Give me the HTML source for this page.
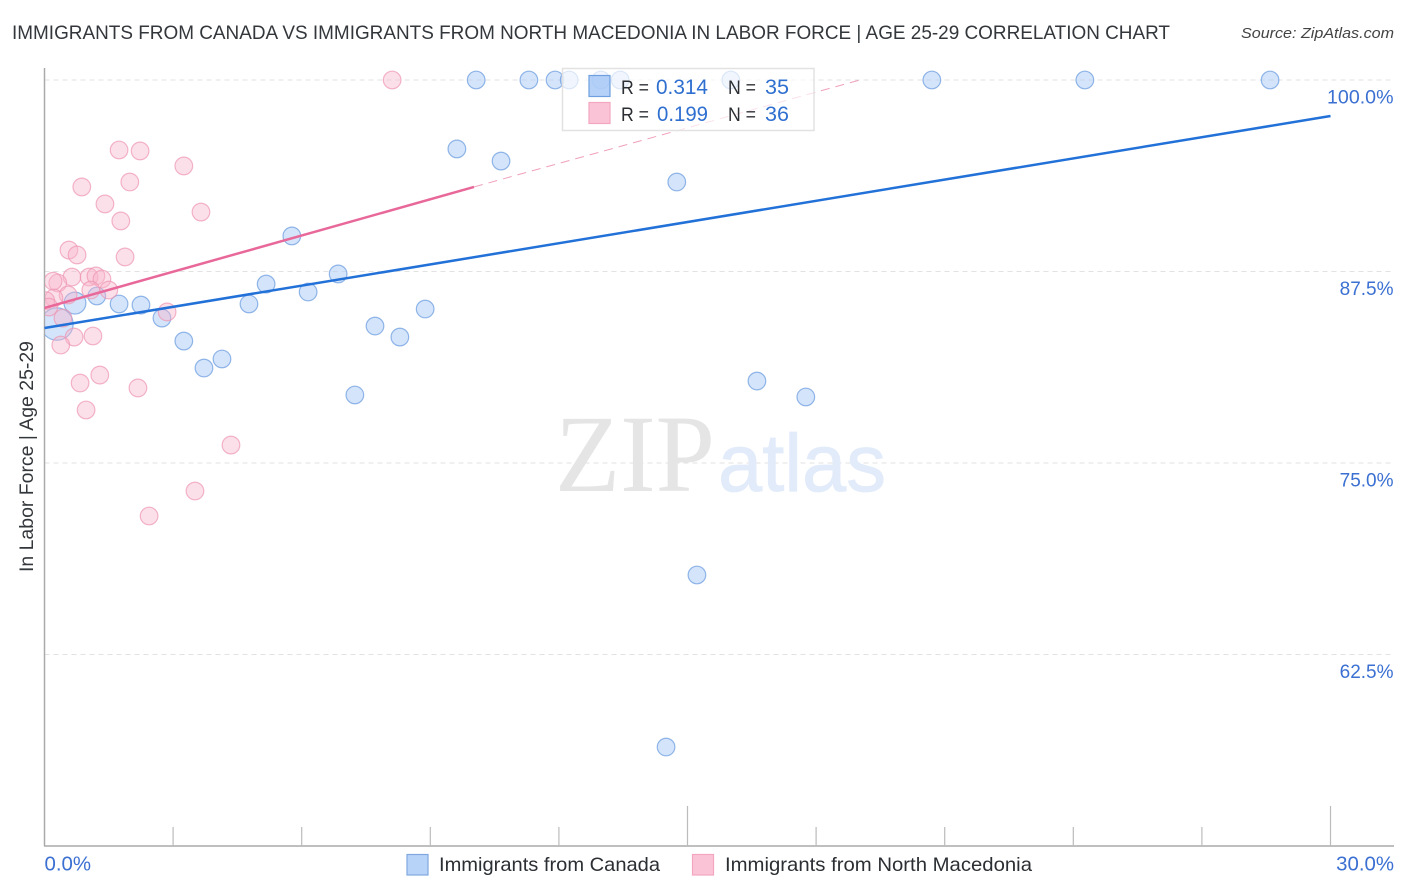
<!DOCTYPE html>
<html lang="en">
<head>
<meta charset="utf-8">
<title>Immigrants from Canada vs Immigrants from North Macedonia Correlation Chart</title>
<style>
html,body{margin:0;padding:0;background:#fff;width:1406px;height:892px;overflow:hidden}
svg{display:block;font-family:"Liberation Sans",sans-serif}
</style>
</head>
<body>
<svg id="chart" width="1406" height="892" viewBox="0 0 1406 892" xmlns="http://www.w3.org/2000/svg">
  <defs>
    <clipPath id="plot-clip"><rect x="45" y="60" width="1349" height="786"/></clipPath>
  </defs>
  <text x="12" y="39" font-size="19.5" fill="#33373b" textLength="1158" lengthAdjust="spacingAndGlyphs">IMMIGRANTS FROM CANADA VS IMMIGRANTS FROM NORTH MACEDONIA IN LABOR FORCE | AGE 25-29 CORRELATION CHART</text>
  <text x="1241" y="38" font-size="15" font-style="italic" fill="#444" textLength="153" lengthAdjust="spacingAndGlyphs">Source: ZipAtlas.com</text>
  <g id="grid"></g>
  <g>
    <text x="555" y="491" font-family="'Liberation Serif',serif" font-size="110" fill="#e5e5e5" textLength="160" lengthAdjust="spacingAndGlyphs">ZIP</text>
    <text x="718" y="491" font-size="82" fill="#e2ebfa" stroke="#e2ebfa" stroke-width="0.8" textLength="168" lengthAdjust="spacingAndGlyphs">atlas</text>
  </g>
  <g id="axes"></g>
  <g id="points" clip-path="url(#plot-clip)"></g>
  <g id="trends"></g>
  <text transform="translate(33,572) rotate(-90)" font-size="19" fill="#33373b" textLength="231" lengthAdjust="spacingAndGlyphs">In Labor Force | Age 25-29</text>
  <g>
    <rect x="562.5" y="68.5" width="251.5" height="62" fill="#fff" fill-opacity="0.68" stroke="#e2e2e2" stroke-width="1.5"/>
    <rect x="589" y="75.5" width="21" height="21" fill="#9cc2f5" fill-opacity="0.75" stroke="#6f9fdf" stroke-width="1.2"/>
    <rect x="589" y="102.5" width="21" height="21" fill="#fbc4d6" stroke="#f3a7bf" stroke-width="1.2"/>
    <text x="621" y="94" font-size="19.5" fill="#2b2f33" textLength="28" lengthAdjust="spacingAndGlyphs">R =</text>
    <text x="656" y="94" font-size="21" fill="#2f6fd0" textLength="52" lengthAdjust="spacingAndGlyphs">0.314</text>
    <text x="728" y="94" font-size="19.5" fill="#2b2f33" textLength="28" lengthAdjust="spacingAndGlyphs">N =</text>
    <text x="765" y="94" font-size="21" fill="#2f6fd0" textLength="24" lengthAdjust="spacingAndGlyphs">35</text>
    <text x="621" y="121" font-size="19.5" fill="#2b2f33" textLength="28" lengthAdjust="spacingAndGlyphs">R =</text>
    <text x="657" y="121" font-size="21" fill="#2f6fd0" textLength="51" lengthAdjust="spacingAndGlyphs">0.199</text>
    <text x="728" y="121" font-size="19.5" fill="#2b2f33" textLength="28" lengthAdjust="spacingAndGlyphs">N =</text>
    <text x="765" y="121" font-size="21" fill="#2f6fd0" textLength="24" lengthAdjust="spacingAndGlyphs">36</text>
  </g>
  <g>
    <rect x="407" y="854.5" width="21" height="20.5" fill="#b8d3f8" stroke="#7fa8e0" stroke-width="1.2"/>
    <text x="439" y="871" font-size="19.5" fill="#2b2f33" textLength="221" lengthAdjust="spacingAndGlyphs">Immigrants from Canada</text>
    <rect x="692.5" y="854.5" width="21" height="20.5" fill="#fbc4d6" stroke="#f3a7bf" stroke-width="1.2"/>
    <text x="725" y="871" font-size="19.5" fill="#2b2f33" textLength="307" lengthAdjust="spacingAndGlyphs">Immigrants from North Macedonia</text>
  </g>
</svg>
<script>
const canadaX = [10.07,11.30,11.91,12.24,12.98,13.43,16.01,20.70,24.27,28.59,9.62,10.65,14.75,5.77,5.17,6.85,6.15,4.77,1.22,1.74,2.25,0.71,0.29,2.74,3.25,3.72,4.14,7.71,8.29,8.88,7.24,16.62,17.76,15.22,14.50];
const canadaY = [100,100,100,100,100,100,100,100,100,100,95.50,94.71,93.34,89.82,86.68,87.34,86.16,85.38,85.90,85.38,85.31,85.44,84.07,84.46,82.96,81.20,81.79,83.94,83.22,85.05,79.44,80.35,79.31,67.69,56.46];
const canadaWeight = [1,1,1,1,1,1,1,1,1,1,1,1,1,1,1,1,1,1,1,1,1,2,4,1,1,1,1,1,1,1,1,1,1,1,1];
const macedoniaX = [8.11,1.74,2.23,3.25,0.87,1.99,1.41,1.78,3.65,0.57,0.76,1.88,0.64,1.04,1.20,1.34,0.31,0.20,1.08,1.50,0.55,0.22,0.03,0.10,2.86,0.43,0.69,1.13,0.38,1.29,0.83,2.18,0.97,4.35,3.51,2.44];
const macedoniaY = [100,95.43,95.37,94.39,93.02,93.34,91.91,90.80,91.38,88.90,88.58,88.45,87.14,87.14,87.21,87.01,86.75,86.87,86.29,86.29,85.97,85.77,85.60,85.18,84.86,84.46,83.22,83.29,82.70,80.74,80.22,79.90,78.46,76.17,73.17,71.54];
const canadaTrendX = [0,30];
const canadaTrendY = [83.81,97.65];
const macedoniaTrendX = [0,10.02];
const macedoniaTrendY = [85.12,93.02];
const macedoniaDashX = [10.02,19.02];
const macedoniaDashY = [93.02,100];
const yTickValues = [100,87.5,75,62.5];
const yTickLabels = ["100.0%","87.5%","75.0%","62.5%"];
const xTickValues = [3,6,9,12,15,18,21,24,27,30];
const xEndValues = [0,30];
const xEndLabels = ["0.0%","30.0%"];

const NS = "http://www.w3.org/2000/svg";
const xScale = v => 44.5 + v * 42.867;
const yScale = v => 80 + (100 - v) * 15.32;
function make(tag, attrs, parent) {
  const el = document.createElementNS(NS, tag);
  for (const k in attrs) el.setAttribute(k, attrs[k]);
  parent.appendChild(el);
  return el;
}
const gridG = document.getElementById("grid");
const axesG = document.getElementById("axes");
const pointsG = document.getElementById("points");
const trendsG = document.getElementById("trends");

yTickValues.forEach((v, i) => {
  const line = make("line", {x1:44.5, x2:1394, y1:yScale(v), y2:yScale(v), stroke:"#e2e2e2", "stroke-width":1, "stroke-dasharray":"5 4"}, gridG);
  
  
  const label = make("text", {x:1393.5, y:yScale(v) + 23.5, "text-anchor":"end", "font-size": v === 100 ? 19.6 : 19, fill:"#3b70d2"}, axesG);
  
  
  label.textContent = yTickLabels[i];
});

const yAxis = make("line", {x1:44.5, x2:44.5, y1:68, y2:846, stroke:"#aaa", "stroke-width":1.5}, axesG);


const xAxis = make("line", {x1:44, x2:1394, y1:846, y2:846, stroke:"#aaa", "stroke-width":1.5}, axesG);



xTickValues.forEach(v => {
  const top = v % 15 === 0 ? 806 : 827;
  const tick = make("line", {x1:xScale(v), x2:xScale(v), y1:top, y2:846, stroke:"#bbb", "stroke-width":1.2}, axesG);
  
  
});

xEndValues.forEach((v, i) => {
  const label = make("text", {x: i === 0 ? xScale(v) : 1394, y:870.5, "text-anchor": i === 0 ? "start" : "end", "font-size":20.4, fill:"#3b70d2"}, axesG);
  
  
  label.textContent = xEndLabels[i];
});

canadaX.forEach((v, i) => {
  const w = canadaWeight[i];
  const c = make("circle", {cx:xScale(v), cy:yScale(canadaY[i]), r:8.8 * Math.sqrt(w) * (w > 2 ? 0.92 : (w > 1 ? 0.88 : 1)), fill:"#a9c9f5", "fill-opacity":0.5, stroke:"#6f9fe0", "stroke-opacity":0.75, "stroke-width":1.2}, pointsG);
  
  
});
macedoniaX.forEach((v, i) => {
  const c = make("circle", {cx:xScale(v), cy:yScale(macedoniaY[i]), r:8.8, fill:"#f8b4ca", "fill-opacity":0.42, stroke:"#ee95b2", "stroke-opacity":0.7, "stroke-width":1.2}, pointsG);
  
  
});

const canadaLine = make("line", {x1:xScale(canadaTrendX[0]), y1:yScale(canadaTrendY[0]), x2:xScale(canadaTrendX[1]), y2:yScale(canadaTrendY[1]), stroke:"#2271d8", "stroke-width":2.5}, trendsG);


const macedoniaLine = make("line", {x1:xScale(macedoniaTrendX[0]), y1:yScale(macedoniaTrendY[0]), x2:xScale(macedoniaTrendX[1]), y2:yScale(macedoniaTrendY[1]), stroke:"#e8689a", "stroke-width":2.5}, trendsG);


const macedoniaDash = make("line", {x1:xScale(macedoniaDashX[0]), y1:yScale(macedoniaDashY[0]), x2:xScale(macedoniaDashX[1]), y2:yScale(macedoniaDashY[1]), stroke:"#f0a0bc", "stroke-width":1, "stroke-dasharray":"9 6"}, trendsG);


</script>
</body>
</html>
